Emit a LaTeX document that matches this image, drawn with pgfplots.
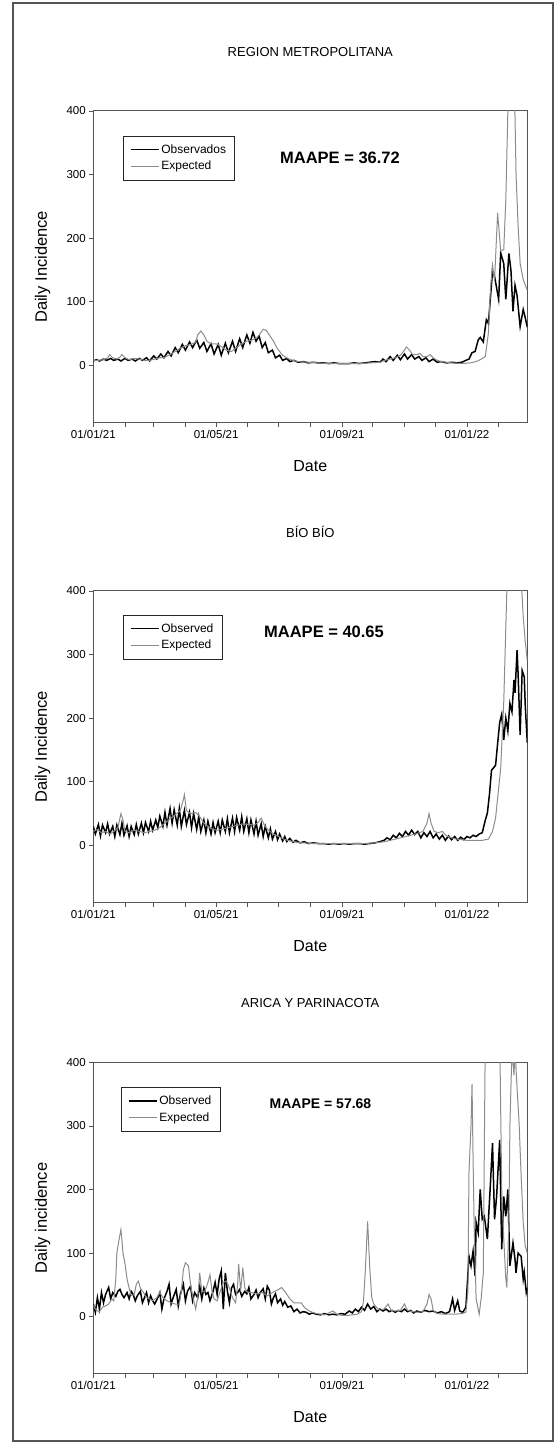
\documentclass[border=0pt]{standalone}
\usepackage{fontspec}
\setmainfont{Liberation Sans}
\usepackage{pgfplots}
\pgfplotsset{compat=1.18}

\definecolor{expgray}{RGB}{140,140,140}
\definecolor{axgray}{RGB}{85,85,85}

\pgfplotsset{
  panel/.style={
    scale only axis, width=434pt, height=311.7pt,
    xmin=0, xmax=424, ymin=-90, ymax=400,
    xtick={0,120,243,365},
    xticklabels={01/01/21,01/05/21,01/09/21,01/01/22},
    minor xtick={31,59,90,151,181,212,273,304,334,396},
    ytick={0,100,200,300,400},
    tick pos=left, tick align=outside,
    major tick length=4pt, minor tick length=4pt,
    every tick/.style={axgray, line width=0.8pt},
    axis line style={axgray, line width=1pt},
    /pgf/number format/assume math mode=true,
    tick label style={font=\fontsize{11.5}{13}\selectfont},
    xlabel={Date},
    xlabel style={font=\fontsize{16}{18}\selectfont, at={(axis description cs:0.5,-0.139)}, anchor=center},
    ylabel style={font=\fontsize{16.5}{18}\selectfont, at={(axis description cs:-0.1168,0.5)}, anchor=center, rotate=0},
    title style={font=\fontsize{13}{15}\selectfont, at={(axis description cs:0.5,1.17)}, anchor=center},
    legend style={anchor=north west, draw=black!85, line width=0.8pt,
      font=\fontsize{12}{13}\selectfont, inner xsep=6.5pt, inner ysep=6.5pt,
      row sep=2.5pt},
    legend cell align=left,
    legend image code/.code={\draw[#1] (0pt,0pt) -- (28pt,0pt);},
    obs/.style={black, line width=1.5pt},
    exp/.style={expgray, line width=1pt},
  }
}

\begin{document}
\begin{tikzpicture}[x=1pt,y=1pt]
\useasboundingbox (0,0) rectangle (557,1443);
\draw[axgray, line width=1.2pt] (13,2) rectangle (553,1440);

% Region Metropolitana
\begin{axis}[panel, at={(93.3pt,1020.3pt)}, anchor=south west,
  title={REGION METROPOLITANA}, ylabel={Daily Incidence},
  legend style={at={(axis description cs:0.0684,0.921)}}]
\addplot[obs] coordinates {(0,7)(3,9)(6,7)(10,10)(13,8)(17,11)(20,8)(24,10)(27,7)(31,11)(34,8)(38,10)(41,7)(45,11)(48,8)(52,12)(55,7)(59,15)(62,10)(66,18)(69,12)(73,22)(76,15)(80,28)(83,20)(87,33)(90,24)(94,37)(97,28)(101,40)(104,27)(108,36)(111,22)(115,34)(118,18)(122,33)(125,16)(129,35)(132,20)(136,38)(139,22)(143,42)(146,28)(150,48)(153,35)(156,52)(159,38)(162,46)(165,28)(168,36)(171,20)(175,24)(178,12)(182,16)(185,8)(189,11)(192,6)(196,8)(200,5)(205,6)(210,4)(215,5)(220,4)(225,4)(230,3)(235,4)(240,3)(245,3)(250,3)(255,4)(260,3)(265,4)(270,5)(275,6)(280,5)(283,10)(286,6)(290,14)(293,8)(297,16)(300,9)(304,18)(307,10)(311,17)(314,10)(318,14)(321,8)(325,12)(328,6)(332,10)(336,5)(340,6)(345,4)(350,5)(355,4)(360,5)(364,8)(367,10)(370,20)(373,22)(376,40)(378,44)(381,37)(384,72)(386,66)(390,148)(392,140)(396,104)(398,177)(401,160)(403,104)(406,176)(408,150)(410,85)(412,126)(414,110)(417,61)(420,88)(422,75)(424,60)};
\addlegendentry{Observados}
\addplot[exp] coordinates {(0,8)(5,8)(10,9)(14,12)(16,17)(19,12)(23,10)(26,13)(28,17)(31,12)(35,9)(40,11)(45,10)(50,8)(55,8)(60,10)(65,12)(70,13)(75,17)(80,22)(85,27)(90,31)(95,33)(100,36)(102,48)(105,54)(108,48)(111,38)(115,34)(120,34)(125,30)(130,24)(135,22)(140,28)(145,34)(150,38)(155,40)(160,44)(163,50)(166,57)(169,55)(172,48)(176,38)(180,26)(185,16)(190,11)(195,8)(200,6)(210,5)(220,4)(230,3)(240,3)(250,3)(260,3)(270,4)(280,5)(285,8)(290,10)(295,12)(300,16)(303,22)(306,29)(309,24)(312,17)(316,17)(319,19)(322,14)(326,14)(329,17)(332,12)(336,8)(340,6)(350,4)(360,3)(368,4)(374,6)(379,10)(383,14)(386,51)(388,120)(390,158)(392,134)(395,240)(398,180)(401,182)(403,260)(405,400)(408,520)(411,480)(413,300)(415,220)(417,160)(420,135)(424,118)};
\addlegendentry{Expected}
\node[font=\bfseries\fontsize{16.5}{18}\selectfont] at (axis description cs:0.5684,0.849) {MAAPE = 36.72};
\end{axis}

% Bio Bio
\begin{axis}[panel, at={(93.3pt,540.3pt)}, anchor=south west,
  title={BÍO BÍO}, ylabel={Daily Incidence},
  legend style={at={(axis description cs:0.0684,0.924)}}]
\addplot[obs] coordinates {(0,30)(2,18)(5,33)(7,15)(9,32)(12,20)(14,34)(16,18)(19,30)(21,14)(23,32)(26,17)(28,35)(30,16)(33,31)(35,14)(37,30)(40,17)(42,33)(44,18)(47,35)(49,20)(51,36)(54,22)(56,38)(58,24)(61,40)(63,28)(65,46)(68,30)(70,52)(72,32)(75,58)(77,35)(79,56)(82,32)(84,58)(86,30)(89,55)(91,33)(94,52)(96,28)(98,50)(101,25)(103,45)(105,22)(108,40)(110,20)(112,38)(115,18)(117,36)(119,20)(122,38)(124,20)(126,40)(129,22)(131,42)(133,20)(136,43)(138,22)(140,44)(143,24)(145,45)(147,22)(150,42)(152,20)(154,40)(157,18)(159,38)(161,16)(164,34)(166,14)(168,30)(171,12)(173,26)(175,10)(178,22)(180,9)(182,18)(185,7)(187,14)(189,6)(192,11)(195,5)(198,8)(202,4)(206,6)(210,3)(215,4)(220,3)(225,3)(230,2)(235,3)(240,2)(245,3)(250,2)(255,3)(260,3)(265,2)(270,3)(275,4)(280,6)(284,8)(287,12)(290,9)(293,16)(296,12)(299,19)(302,14)(305,22)(308,16)(311,24)(314,17)(317,22)(320,12)(323,20)(326,14)(329,22)(332,12)(335,18)(338,10)(341,16)(344,8)(347,15)(350,9)(353,14)(356,8)(359,13)(362,9)(365,14)(368,12)(371,16)(374,14)(377,18)(380,20)(383,40)(385,51)(387,80)(389,118)(391,122)(393,126)(395,160)(397,193)(399,206)(401,166)(403,200)(405,180)(407,223)(409,210)(411,260)(412,240)(414,307)(415,270)(417,174)(419,275)(421,265)(422,220)(424,161)};
\addlegendentry{Observed}
\addplot[exp] coordinates {(0,22)(4,25)(8,20)(12,22)(16,18)(20,22)(24,28)(27,50)(29,40)(31,22)(35,20)(40,24)(45,22)(50,20)(55,22)(60,24)(65,28)(70,35)(75,42)(80,48)(85,55)(88,72)(89,80)(91,55)(95,50)(100,52)(104,45)(108,35)(112,30)(117,25)(122,24)(127,26)(132,28)(137,30)(142,32)(147,34)(152,33)(157,32)(161,36)(164,43)(167,32)(171,24)(176,18)(181,14)(186,10)(192,7)(198,5)(205,4)(215,3)(225,3)(235,3)(245,3)(255,3)(265,3)(275,4)(285,6)(295,10)(305,14)(315,18)(322,22)(326,35)(328,50)(330,35)(333,22)(337,20)(341,22)(345,15)(350,12)(355,10)(360,9)(365,8)(370,8)(375,8)(380,8)(386,10)(390,22)(393,43)(396,90)(398,121)(401,226)(404,400)(407,560)(411,620)(415,560)(418,420)(420,360)(422,320)(424,291)};
\addlegendentry{Expected}
\node[font=\bfseries\fontsize{16.5}{18}\selectfont] at (axis description cs:0.5316,0.8694) {MAAPE = 40.65};
\end{axis}

% Arica y Parinacota
\begin{axis}[panel, at={(93.3pt,69pt)}, anchor=south west,
  title={ARICA Y PARINACOTA}, ylabel={Daily incidence},
  legend style={at={(axis description cs:0.0638,0.921)}}]
\addplot[obs] coordinates {(0,20)(2,7)(4,30)(6,12)(8,38)(10,22)(12,35)(15,46)(17,28)(19,38)(22,32)(24,40)(26,43)(28,35)(30,30)(33,38)(35,28)(37,40)(39,35)(41,25)(43,33)(46,40)(48,22)(50,30)(52,38)(54,22)(56,33)(58,25)(60,20)(63,30)(65,38)(67,12)(69,28)(72,40)(74,51)(76,20)(78,30)(81,43)(83,17)(85,35)(88,51)(90,25)(92,40)(95,48)(97,25)(99,38)(102,30)(104,48)(106,28)(108,45)(110,35)(112,38)(114,25)(117,40)(119,54)(121,35)(123,60)(125,72)(127,12)(129,69)(131,40)(133,22)(135,45)(137,51)(139,35)(141,38)(143,43)(145,32)(148,40)(150,36)(152,46)(154,28)(157,35)(159,42)(161,30)(163,38)(166,44)(168,28)(170,48)(172,42)(174,20)(176,30)(178,36)(180,22)(183,28)(185,18)(187,24)(190,15)(193,17)(196,8)(199,12)(202,6)(205,8)(208,7)(211,4)(214,6)(218,4)(222,3)(226,5)(230,3)(234,4)(238,3)(242,5)(246,4)(250,9)(253,6)(256,12)(259,8)(262,15)(265,10)(268,20)(271,12)(274,16)(277,8)(280,12)(283,9)(286,12)(289,8)(292,10)(295,7)(298,10)(301,8)(304,12)(307,8)(310,10)(313,6)(316,9)(320,7)(324,10)(328,8)(332,9)(336,6)(340,8)(344,5)(348,8)(351,28)(353,10)(356,25)(358,9)(361,7)(364,15)(367,95)(369,80)(371,103)(373,64)(374,148)(376,132)(378,200)(380,153)(382,158)(385,122)(388,210)(390,273)(392,153)(394,189)(397,278)(399,106)(401,189)(403,158)(405,200)(407,80)(410,116)(412,90)(413,69)(415,100)(418,95)(420,59)(421,70)(423,38)(424,45)};
\addlegendentry{Observed}
\addplot[exp] coordinates {(0,17)(3,10)(6,8)(9,15)(12,17)(15,20)(18,28)(20,25)(22,60)(23,100)(25,120)(27,137)(28,120)(29,100)(31,83)(33,59)(35,45)(37,33)(40,35)(42,51)(44,56)(46,45)(49,38)(52,30)(55,28)(58,25)(62,30)(65,38)(68,30)(72,25)(76,22)(80,20)(84,20)(86,40)(88,74)(90,85)(93,80)(95,50)(97,33)(100,12)(102,30)(104,69)(106,40)(109,40)(112,54)(114,66)(116,40)(118,28)(121,25)(124,40)(127,54)(130,56)(133,45)(136,30)(139,22)(141,50)(142,83)(144,40)(146,77)(148,45)(151,38)(155,38)(160,36)(165,38)(170,33)(175,38)(180,42)(184,46)(188,38)(192,28)(196,22)(200,22)(203,22)(206,15)(210,10)(214,7)(218,5)(222,4)(226,3)(230,6)(234,9)(238,4)(243,2)(248,2)(253,3)(258,4)(262,8)(264,25)(266,80)(268,150)(270,80)(272,30)(274,20)(277,14)(280,10)(284,12)(288,20)(291,10)(295,9)(300,10)(304,20)(307,10)(312,8)(317,7)(322,8)(326,20)(328,35)(330,28)(332,10)(336,5)(342,4)(348,4)(354,4)(360,5)(364,7)(366,40)(367,226)(369,300)(370,366)(371,250)(372,150)(374,28)(377,4)(379,30)(381,69)(383,450)(386,600)(390,650)(394,600)(397,450)(399,200)(401,122)(403,60)(404,46)(406,150)(407,300)(409,420)(411,380)(412,420)(414,360)(416,304)(418,220)(420,148)(422,111)(424,100)};
\addlegendentry{Expected}
\node[font=\bfseries\fontsize{14}{16}\selectfont] at (axis description cs:0.5235,0.8685) {MAAPE = 57.68};
\end{axis}
\end{tikzpicture}
\end{document}
